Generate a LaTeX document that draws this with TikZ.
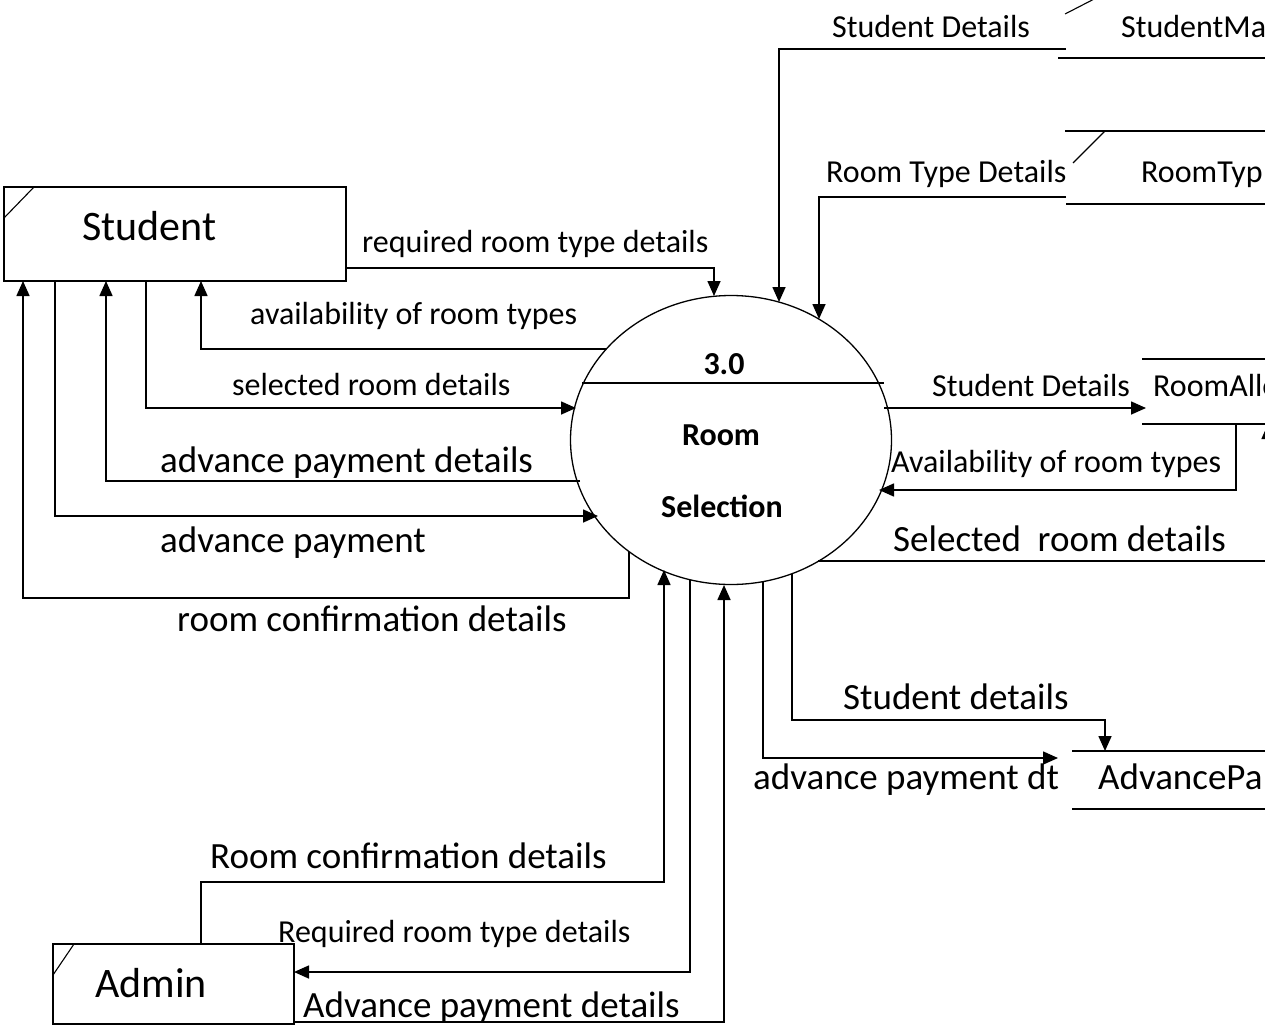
\documentclass[tikz,border=0pt]{standalone}
\usepackage{fontspec}
\setmainfont{Carlito}
\usetikzlibrary{arrows.meta,shapes.geometric}
\begin{document}
\begin{tikzpicture}[x=1pt,y=-1pt,
  flow/.style={line width=1.6pt,-{Triangle[length=15pt,width=13pt]}},
  storeline/.style={line width=1.6pt},
  ent/.style={draw,line width=1.3pt,inner sep=0,outer sep=0,anchor=north west},
  entl/.style={font=\fontsize{42}{50}\selectfont,inner sep=0,anchor=base west},
  sml/.style={font=\fontsize{32}{38}\selectfont,inner sep=0,anchor=base west},
  bgl/.style={font=\fontsize{37}{44}\selectfont,inner sep=0,anchor=base west},
  prl/.style={font=\fontsize{32}{38}\selectfont\bfseries,inner sep=0,anchor=base}]
\useasboundingbox[fill=white] (0,0) rectangle (1265,1028);

% ---- process 3.0
\node[draw,ellipse,line width=1.3pt,minimum width=321pt,minimum height=289pt,inner sep=0,outer sep=0] (P) at (731,440) {};
\draw[line width=1.3pt] (582,383) -- (884,383);
\node[prl] (Pn) at (724,374) {3.0};
\node[prl] (Pt1) at (721,445) {Room};
\node[prl] (Pt2) at (722,517) {Selection};

% border points of the process
\coordinate (p1) at (714,296);
\coordinate (p2) at (606,349);
\coordinate (p3) at (576,408);
\coordinate (p4) at (580,481);
\coordinate (p5) at (598,516);
\coordinate (p6) at (629,552);
\coordinate (p7) at (779,302);
\coordinate (p8) at (819,319);
\coordinate (p9) at (884,408);
\coordinate (p10) at (879,490);
\coordinate (p11) at (818,561);
\coordinate (p12) at (792,574);
\coordinate (p13) at (763,582);
\coordinate (p14) at (664,570);
\coordinate (p15) at (690,580);
\coordinate (p16) at (724,585);

% ---- external entities
\node[ent,minimum width=342pt,minimum height=94pt] (stu) at (4,187) {};
\draw[line width=1.1pt] ([yshift=-31pt]stu.north west) -- ([xshift=30pt]stu.north west);
\node[entl] (stuT) at (82,240) {Student};

\node[ent,minimum width=241pt,minimum height=80pt] (adm) at (53,944) {};
\draw[line width=1.1pt] ([yshift=-31pt]adm.north west) -- ([xshift=21pt]adm.north west);
\node[entl] (admT) at (95,997) {Admin};

% ---- data stores (open-ended, cut by the frame)
\draw[storeline] (1058,58) -- (1275,58);
\draw[line width=1.1pt] (1065,14) -- (1100,-4);
\node[sml] (smT) at (1121,37) {StudentMa};
\coordinate (smIn) at (1066,49);

\draw[storeline] (1065,131) -- (1275,131);
\draw[line width=1.1pt] (1105,131) -- (1073,163);
\draw[storeline] (1066,204) -- (1275,204);
\node[sml] (rtT) at (1141,182) {RoomTyp};
\coordinate (rtIn) at (1066,197);

\draw[storeline] (1142,359) -- (1275,359);
\draw[storeline] (1142,424) -- (1275,424);
\node[sml] (raT) at (1153,396) {RoomAllo};
\coordinate (raIn) at (1146,408);
\coordinate (raOut) at (1236,424);
\coordinate (raIn2) at (1268,424);

\draw[storeline] (1072,751) -- (1275,751);
\draw[storeline] (1072,809) -- (1275,809);
\node[bgl] (apT) at (1098,789) {AdvancePa};
\coordinate (apTop) at (1105,751);
\coordinate (apIn) at (1058,758);

% ---- flows with Student
\draw[flow] ([yshift=13pt]stu.south east) -| (p1);
\node[sml] (l1) at (362,252) {required room type details};
\draw[flow] (p2) -| ([xshift=197pt]stu.south west);
\node[sml] (l2) at (250,324) {availability of room types};
\draw[flow] ([xshift=142pt]stu.south west) |- (p3);
\node[sml] (l3) at (232,395) {selected room details};
\draw[flow] (p4) -| ([xshift=102pt]stu.south west);
\node[bgl] (l4) at (160,472) {advance payment details};
\draw[flow] ([xshift=51pt]stu.south west) |- (p5);
\node[bgl] (l5) at (160,552) {advance payment};
\draw[flow] (p6) -- ++(0,46) -| ([xshift=19pt]stu.south west);
\node[bgl] (l6) at (177,631) {room confirmation details};

% ---- flows with data stores
\draw[flow] (smIn) -| (p7);
\node[sml] (l7) at (832,37) {Student Details};
\draw[flow] (rtIn) -| (p8);
\node[sml] (l8) at (826,182) {Room Type Details};
\draw[flow] (p9) -- (raIn);
\node[sml] (l9) at (932,396) {Student Details};
\draw[flow] (raOut) |- (p10);
\node[sml] (l10) at (891,472) {Availability of room types};
\draw[flow] (p11) -| (raIn2);
\node[bgl] (l11) at (893,551) {Selected\ \ room details};
\draw[flow] (p12) |- ([yshift=31pt]apTop) -- (apTop);
\node[bgl] (l12) at (843,709) {Student details};
\draw[flow] (p13) |- (apIn);
\node[bgl] (l13) at (753,789) {advance payment dt};

% ---- flows with Admin
\draw[flow] ([xshift=148pt]adm.north west) -- ++(0,-62) -| (p14);
\node[bgl] (l14) at (210,868) {Room confirmation details};
\draw[flow] (p15) |- ([yshift=52pt]adm.south east);
\node[sml] (l15) at (278,942) {Required room type details};
\draw[flow] ([yshift=2pt]adm.south east) -| (p16);
\node[bgl] (l16) at (303,1017) {Advance payment details};
\end{tikzpicture}
\end{document}
